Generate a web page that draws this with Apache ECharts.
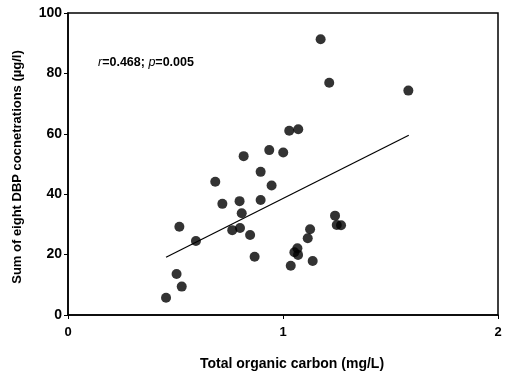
<!DOCTYPE html>
<html>
<head>
<meta charset="utf-8">
<script src="https://cdn.jsdelivr.net/npm/echarts@6/dist/echarts.min.js"></script>
<style>html,body{margin:0;padding:0;background:#fff}#c{width:511px;height:373px}</style>
</head>
<body>
<div id="c"></div>
<script>
const tocX = [1.175,1.215,1.583,1.029,1.071,0.936,1.001,0.817,0.896,0.685,0.947,0.718,0.798,0.896,0.808,0.518,0.764,0.800,0.847,0.595,0.868,1.242,1.250,1.270,1.126,1.115,1.067,1.053,1.070,1.036,1.138,0.505,0.529,0.456];
const dbpY = [91.3,76.9,74.3,61.0,61.5,54.6,53.8,52.6,47.4,44.1,42.9,36.8,37.7,38.1,33.7,29.2,28.1,28.8,26.5,24.5,19.3,32.9,29.8,29.7,28.4,25.4,22.1,20.8,19.9,16.3,17.9,13.6,9.4,5.7];
const trendX = [0.456, 1.585];
const trendY = [19.1, 59.5];
const xTicks = [0, 1, 2];
const yTicks = [0, 20, 40, 60, 80, 100];
const statText = {r: '0.468', p: '0.005'};

const pts = tocX.map((x, i) => [x, dbpY[i]]);
const line = trendX.map((x, i) => [x, trendY[i]]);
const font = '"Liberation Sans", Arial, sans-serif';

const chart = echarts.init(document.getElementById('c'), null, {renderer: 'canvas'});
chart.setOption({
  animation: false,
  backgroundColor: '#fff',
  grid: {left: 68, right: 13, top: 13, bottom: 58, containLabel: false, outerBoundsMode: 'none', show: true, borderColor: '#000', borderWidth: 1.5, backgroundColor: 'transparent'},
  xAxis: {
    type: 'value', min: xTicks[0], max: xTicks[xTicks.length - 1], interval: 1,
    name: 'Total organic carbon (mg/L)', nameLocation: 'middle', nameGap: 42,
    nameTextStyle: {fontFamily: font, fontSize: 14, fontWeight: 'bold', color: '#000', padding: [0, 0, 0, 18]},
    axisLine: {show: true, lineStyle: {color: '#000', width: 1.5}},
    axisTick: {show: true, inside: false, length: 4, lineStyle: {color: '#000'}},
    axisLabel: {fontFamily: font, fontSize: 13, fontWeight: 'bold', color: '#000', margin: 11},
    splitLine: {show: false}
  },
  yAxis: {
    type: 'value', min: yTicks[0], max: yTicks[yTicks.length - 1], interval: 20,
    name: 'Sum of eight DBP cocnetrations (\u00b5g/l)', nameLocation: 'middle', nameGap: 44, nameRotate: 90,
    nameTextStyle: {fontFamily: font, fontSize: 13, fontWeight: 'bold', color: '#000', padding: [0, 6, 0, 0]},
    axisLine: {show: true, lineStyle: {color: '#000', width: 1.5}},
    axisTick: {show: true, inside: false, length: 4, lineStyle: {color: '#000'}},
    axisLabel: {fontFamily: font, fontSize: 14, fontWeight: 'bold', color: '#000', margin: 6},
    splitLine: {show: false}
  },
  series: [
    {type: 'scatter', data: pts, symbol: 'circle', symbolSize: 10, itemStyle: {color: '#000'}, z: 3},
    {type: 'line', data: line, symbol: 'none', lineStyle: {color: '#000', width: 1.2}, z: 2}
  ],
  graphic: [{
    type: 'text', left: 98, top: 56,
    style: {
      text: '{i|r}=' + statText.r + '; {i|p}=' + statText.p,
      font: 'bold 12.5px ' + font, fill: '#000',
      rich: {i: {fontStyle: 'italic', fontWeight: 'normal', fontSize: 12.5, fontFamily: font, fill: '#000'}}
    }
  }]
});
</script>
</body>
</html>
